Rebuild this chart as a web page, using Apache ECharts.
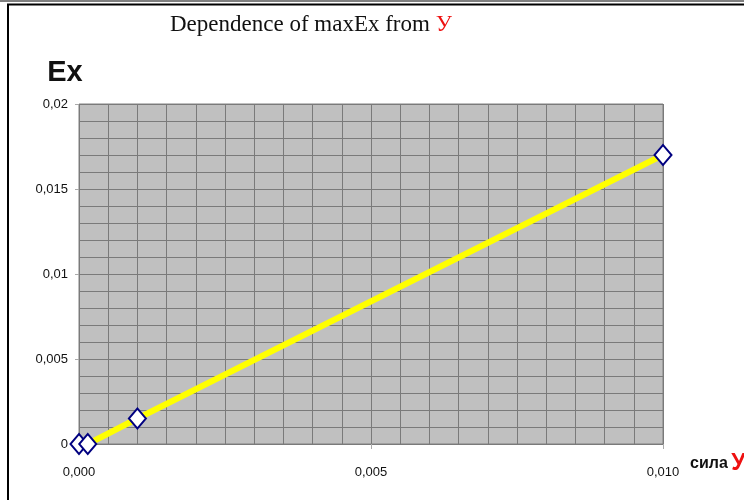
<!DOCTYPE html>
<html>
<head>
<meta charset="utf-8">
<script src="https://cdn.jsdelivr.net/npm/echarts@6/dist/echarts.min.js"></script>
<style>html,body{margin:0;padding:0;background:#fff;}#c{width:744px;height:500px;}</style>
</head>
<body>
<div id="c"></div>
<script>
// Data
var xValues = [0, 0.00015, 0.001, 0.01];
var yValues = [0, 0, 0.0015, 0.017];
var xTickLabels = ['0,000', '0,005', '0,010'];
var yTickLabels = ['0', '0,005', '0,01', '0,015', '0,02'];
var titleMain = 'Dependence of maxEx from ';
var titleVar = 'У';
var yName = 'Ex';
var xNameWord = 'сила';
var xNameVar = 'У';

var chart = echarts.init(document.getElementById('c'));
var pts = xValues.map(function (x, i) { return [x, yValues[i]]; });
var sans = 'Liberation Sans, Arial, sans-serif';

chart.setOption({
  animation: false,
  backgroundColor: '#ffffff',
  title: {
    text: '{a|' + titleMain + '}{b|' + titleVar + '}',
    left: 165, top: 8,
    textStyle: {
      fontWeight: 'normal',
      rich: {
        a: { fontFamily: 'Liberation Serif, Times New Roman, serif', fontSize: 23, fontWeight: 'normal', color: '#111' },
        b: { fontFamily: 'Liberation Serif, Times New Roman, serif', fontSize: 23, fontWeight: 'normal', color: '#ee1111' }
      }
    }
  },
  graphic: [
    { type: 'line', shape: { x1: 0, y1: 1, x2: 744, y2: 1 }, style: { stroke: '#000', lineWidth: 1 } },
    { type: 'line', shape: { x1: 7, y1: 4.5, x2: 744, y2: 4.5 }, style: { stroke: '#000', lineWidth: 2 } },
    { type: 'line', shape: { x1: 8, y1: 4, x2: 8, y2: 500 }, style: { stroke: '#000', lineWidth: 2 } }
  ],
  grid: {
    left: 79, top: 104, right: 81, bottom: 56,
    outerBoundsMode: 'none', containLabel: false,
    show: true, backgroundColor: '#c0c0c0', borderColor: '#808080', borderWidth: 1
  },
  xAxis: [
    {
      type: 'value', min: 0, max: 0.01, interval: 0.0005,
      axisLine: { show: false }, axisTick: { show: false }, axisLabel: { show: false },
      splitLine: { show: true, lineStyle: { color: '#7a7a7a', width: 1 } }
    },
    {
      type: 'value', min: 0, max: 0.01, interval: 0.005, position: 'bottom',
      axisLine: { show: false },
      axisTick: { show: true, length: 5, lineStyle: { color: '#aaaaaa' } },
      splitLine: { show: false },
      axisLabel: {
        margin: 22, fontFamily: sans, fontSize: 13, color: '#111',
        formatter: function (v) { return xTickLabels[Math.round(v / 0.005)]; }
      },
      name: '{a|' + xNameWord + '} {b|' + xNameVar + '}',
      nameLocation: 'end', nameGap: 27,
      nameTextStyle: {
        padding: [40, 0, 0, 0],
        rich: {
          a: { fontFamily: sans, fontSize: 16, fontWeight: 'bold', color: '#111' },
          b: { fontFamily: sans, fontSize: 23, fontWeight: 'bold', color: '#ee1111' }
        }
      }
    }
  ],
  yAxis: [
    {
      type: 'value', min: 0, max: 0.02, interval: 0.001,
      axisLine: { show: false }, axisTick: { show: false }, axisLabel: { show: false },
      splitLine: { show: true, lineStyle: { color: '#7a7a7a', width: 1 } }
    },
    {
      type: 'value', min: 0, max: 0.02, interval: 0.005, position: 'left',
      axisLine: { show: false },
      axisTick: { show: true, length: 4, lineStyle: { color: '#aaaaaa' } },
      splitLine: { show: false },
      axisLabel: {
        margin: 11, fontFamily: sans, fontSize: 13, color: '#111',
        formatter: function (v) { return yTickLabels[Math.round(v / 0.005)]; }
      },
      name: yName, nameLocation: 'end', nameGap: 17,
      nameTextStyle: {
        fontFamily: sans, fontSize: 29, fontWeight: 'bold', color: '#111',
        padding: [0, 28, 0, 0]
      }
    }
  ],
  series: [{
    type: 'line', xAxisIndex: 0, yAxisIndex: 0, data: pts,
    symbol: 'diamond', symbolSize: [17, 20], showSymbol: true,
    lineStyle: { color: '#ffff00', width: 6 },
    itemStyle: { color: '#ffffff', borderColor: '#000080', borderWidth: 2 },
    z: 3
  }]
});
</script>
</body>
</html>
